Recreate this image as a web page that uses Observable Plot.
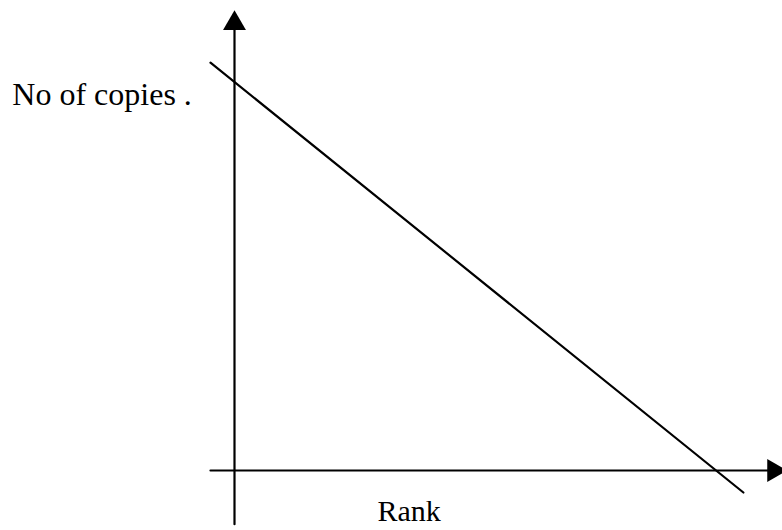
<!DOCTYPE html>
<html>
<head>
<meta charset="utf-8">
<script src="https://cdn.jsdelivr.net/npm/d3@7"></script>
<script src="https://cdn.jsdelivr.net/npm/@observablehq/plot@0.6"></script>
<style>
  html, body { margin: 0; padding: 0; background: #fff; }
  svg { display: block; }
</style>
</head>
<body>
<div id="chart"></div>
<script>
// Schematic: number of copies falls linearly with rank
const lineRank = [-4.5, 95.3];
const lineCopies = [92.7, -5.0];

// Axis extents (in the same conceptual units)
const xAxisRank = [-4.5, 102.6];
const xAxisCopies = [0, 0];
const yAxisRank = [0, 0];
const yAxisCopies = [-12.2, 100];

// Arrow heads
const arrowRank = [0, 101.0];
const arrowCopies = [101.6, 0];
const arrowRotate = [0, 90];

// Labels
const labelText = ["No of copies .", "Rank"];
const labelRank = [-41.6, 32.7];
const labelCopies = [85.3, -9.4];
const labelAnchor = ["start", "middle"];
const labelSize = [32, 30];

const lineData = lineRank.map((r, i) => ({rank: r, copies: lineCopies[i]}));
const xAxisData = xAxisRank.map((r, i) => ({rank: r, copies: xAxisCopies[i]}));
const yAxisData = yAxisRank.map((r, i) => ({rank: r, copies: yAxisCopies[i]}));
const arrowData = arrowRank.map((r, i) => ({rank: r, copies: arrowCopies[i], rotate: arrowRotate[i]}));
const labelData = labelText.map((t, i) => ({text: t, rank: labelRank[i], copies: labelCopies[i], anchor: labelAnchor[i], size: labelSize[i]}));

const chart = Plot.plot({
  width: 782,
  height: 530,
  margin: 0,
  x: {domain: [0, 100], range: [234, 768], axis: null},
  y: {domain: [0, 100], range: [470, 30], axis: null},
  style: {background: "#fff"},
  marks: [
    Plot.line(xAxisData, {x: "rank", y: "copies", stroke: "#000", strokeWidth: 2.2}),
    Plot.line(yAxisData, {x: "rank", y: "copies", stroke: "#000", strokeWidth: 2.2}),
    Plot.line(lineData, {x: "rank", y: "copies", stroke: "#000", strokeWidth: 2.2}),
    Plot.dot(arrowData, {x: "rank", y: "copies", symbol: "triangle", r: 8.5, fill: "#000", stroke: "none", rotate: "rotate"}),
    Plot.text(labelData.filter(d => d.anchor === "start"), {x: "rank", y: "copies", text: "text", textAnchor: "start", fontSize: labelSize[0], fontFamily: "Liberation Serif, Times New Roman, serif", fill: "#000"}),
    Plot.text(labelData.filter(d => d.anchor === "middle"), {x: "rank", y: "copies", text: "text", textAnchor: "middle", fontSize: labelSize[1], fontFamily: "Liberation Serif, Times New Roman, serif", fill: "#000"})
  ]
});
document.getElementById("chart").append(chart);
</script>
</body>
</html>
